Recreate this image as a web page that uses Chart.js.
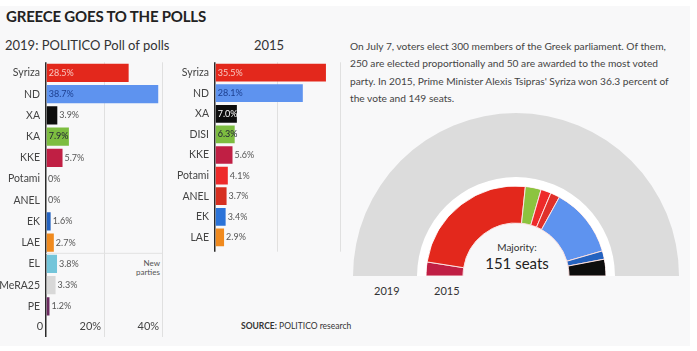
<!DOCTYPE html>
<html>
<head>
<meta charset="utf-8">
<script src="https://cdn.jsdelivr.net/npm/chart.js@4"></script>
<style>
  body { margin: 0; background: #fff; font-family: Lato, "Liberation Sans", sans-serif; color: #333; }
  #panel { position: absolute; left: 0; top: 6px; width: 690px; height: 340px; background: #f8f8f9; }
  .abs { position: absolute; white-space: nowrap; }
  canvas { position: absolute; }
</style>
</head>
<body>
<div id="panel"></div>
<div class="abs" style="left:6px;top:7px;font-size:15px;font-weight:bold;color:#222;letter-spacing:-0.2px">GREECE GOES TO THE POLLS</div>
<div class="abs" style="left:5px;top:37px;font-size:13px;color:#333">2019: POLITICO Poll of polls</div>
<div class="abs" style="left:254px;top:37px;font-size:13px;color:#333">2015</div>
<div class="abs" style="left:350px;top:38px;font-size:10.2px;line-height:17.4px;color:#444">
On July 7, voters elect 300 members of the Greek parliament. Of them,<br>
250 are elected proportionally and 50 are awarded to the most voted<br>
party. In 2015, Prime Minister Alexis Tsipras' Syriza won 36.3 percent of<br>
the vote and 149 seats.</div>
<div class="abs" style="left:110px;top:259px;width:50px;text-align:right;font-size:8px;line-height:9px;color:#555;white-space:normal">New<br>parties</div>
<div class="abs" style="left:241px;top:321px;font-size:8.5px;color:#333"><b>SOURCE:</b> POLITICO research</div>
<div class="abs" style="left:368px;top:246px;width:40px;text-align:center;font-size:7.5px;line-height:8.5px;color:#555;white-space:normal">July 7<br>general<br>election</div>
<div class="abs" style="left:374px;top:284px;font-size:11px;color:#333">2019</div>
<div class="abs" style="left:434px;top:284px;font-size:11px;color:#333">2015</div>
<div class="abs" style="left:467px;top:241px;width:100px;text-align:center;font-size:10px;color:#333">Majority:</div>
<div class="abs" style="left:467px;top:254px;width:100px;text-align:center;font-size:15px;color:#222">151 seats</div>

<canvas id="poll2019" width="166" height="290" style="left:0;top:50px;width:166px;height:290px"></canvas>
<canvas id="vote2015" width="175" height="210" style="left:170px;top:50px;width:175px;height:210px"></canvas>
<canvas id="seats" width="326" height="163" style="left:353px;top:113px;width:326px;height:163px"></canvas>

<script>
// 2019 poll of polls
const parties2019 = ['Syriza', 'ND', 'XA', 'KA', 'KKE', 'Potami', 'ANEL', 'EK', 'LAE', 'EL', 'MeRA25', 'PE'];
const poll2019 = [28.5, 38.7, 3.9, 7.9, 5.7, 0, 0, 1.6, 2.7, 3.8, 3.3, 1.2];
const colors2019 = ['#e3281c', '#5e93ef', '#0d0d0d', '#7dbd40', '#c01f44', '#ee2a2a', '#d62f20', '#2563c0', '#f08a1e', '#73c5da', '#d8d8d8', '#6b2a5f'];

// 2015 election result
const parties2015 = ['Syriza', 'ND', 'XA', 'DISI', 'KKE', 'Potami', 'ANEL', 'EK', 'LAE'];
const vote2015 = [35.5, 28.1, 7.0, 6.3, 5.6, 4.1, 3.7, 3.4, 2.9];
const colors2015 = ['#e3281c', '#5e93ef', '#0d0d0d', '#7dbd40', '#c01f44', '#ee2a2a', '#d62f20', '#2b73d8', '#f08a1e'];

// 2015 seats, left to right round the hemicycle
const seatParties = ['KKE', 'Syriza', 'DISI', 'Potami', 'ANEL', 'ND', 'EK', 'XA'];
const seats2015 = [15, 145, 17, 11, 10, 75, 9, 18];
const seatColors = ['#c01f44', '#e3281c', '#8cc43f', '#ee2a2a', '#e0302a', '#5e93ef', '#2563c0', '#0d0d0d'];
const totalSeats = [300];

const xTicks = [0, 20, 40];

// label inside the bar when it is wide enough, otherwise just after it
function insideColor(c) {
  if (c === '#e3281c') return '#f8c8c0';
  if (c === '#5e93ef') return '#1d3f8f';
  if (c === '#0d0d0d') return '#ffffff';
  return '#223';
}

const valueLabels = {
  id: 'valueLabels',
  afterDatasetsDraw(chart) {
    const ctx = chart.ctx;
    const meta = chart.getDatasetMeta(0);
    const ds = chart.data.datasets[0];
    ctx.save();
    ctx.font = '9px Lato, sans-serif';
    ctx.textBaseline = 'middle';
    ctx.textAlign = 'left';
    meta.data.forEach((bar, i) => {
      const v = ds.data[i];
      const txt = v.toFixed(1).replace(/\.0$/, v === 0 ? '' : '.0') + '%';
      if (v >= 6) {
        ctx.fillStyle = insideColor(ds.backgroundColor[i]);
        ctx.fillText(txt, bar.base + 2, bar.y);
      } else {
        ctx.fillStyle = '#555';
        ctx.fillText(txt, bar.x + 2, bar.y);
      }
    });
    ctx.restore();
  }
};

// thin rule above the new parties
const newPartiesRule = {
  id: 'newPartiesRule',
  beforeDatasetsDraw(chart, args, opts) {
    if (!opts.after) return;
    const y = chart.scales.y;
    const x = chart.scales.x;
    const i = parties2019.indexOf(opts.after);
    const py = (y.getPixelForValue(i) + y.getPixelForValue(i + 1)) / 2;
    const ctx = chart.ctx;
    ctx.save();
    ctx.strokeStyle = '#e2e2e2';
    ctx.lineWidth = 1;
    ctx.beginPath();
    ctx.moveTo(x.getPixelForValue(0), py);
    ctx.lineTo(x.getPixelForValue(40), py);
    ctx.stroke();
    ctx.restore();
  }
};

function barChart(id, labels, values, colors, opt) {
  return new Chart(document.getElementById(id), {
    type: 'bar',
    data: {
      labels: labels,
      datasets: [{
        data: values,
        backgroundColor: colors,
        barPercentage: 0.86,
        categoryPercentage: 1
      }]
    },
    options: {
      indexAxis: 'y',
      responsive: false,
      animation: false,
      layout: { padding: { top: 11, right: opt.padRight, left: 0, bottom: 0 } },
      plugins: {
        legend: { display: false },
        tooltip: { enabled: false },
        newPartiesRule: { after: opt.ruleAfter }
      },
      scales: {
        x: {
          min: 0, max: 40,
          afterBuildTicks: (s) => { s.ticks = xTicks.map(v => ({ value: v })); },
          afterFit: (s) => { s.height = opt.xHeight; },
          grid: {
            color: (c) => c.tick && c.tick.value === 0 ? '#2a2a2a' : '#e0e0e0',
            lineWidth: (c) => c.tick && c.tick.value === 0 ? 1.5 : 1,
            tickLength: opt.tickLength,
            drawOnChartArea: true
          },
          border: { display: false },
          ticks: {
            display: opt.showTicks,
            align: 'end',
            padding: -opt.tickLength + 3,
            color: '#444',
            font: { family: 'Lato', size: 11 },
            callback: (v) => v === 0 ? '0 ' : v + '% '
          }
        },
        y: {
          afterFit: (s) => { s.width = opt.yWidth; },
          grid: { display: false, drawTicks: false },
          border: { display: false },
          ticks: {
            color: '#444',
            padding: 6,
            font: { family: 'Lato', size: 10.5 }
          }
        }
      }
    },
    plugins: [valueLabels, newPartiesRule]
  });
}

barChart('poll2019', parties2019, poll2019, colors2019,
  { padRight: 4, yWidth: 46, xHeight: 23, tickLength: 20, showTicks: true, ruleAfter: 'LAE' });
barChart('vote2015', parties2015, vote2015, colors2015,
  { padRight: 5, yWidth: 45, xHeight: 7, tickLength: 4, showTicks: false, ruleAfter: null });

new Chart(document.getElementById('seats'), {
  type: 'doughnut',
  data: {
    labels: seatParties,
    datasets: [
      { data: totalSeats, backgroundColor: ['#dcdcdc'], borderWidth: 0, weight: 64 },
      { data: totalSeats, backgroundColor: ['#ffffff'], borderWidth: 0, weight: 9 },
      { data: seats2015, backgroundColor: seatColors, borderColor: '#fbe0e0', borderWidth: 1, weight: 37 }
    ]
  },
  options: {
    responsive: false,
    animation: false,
    rotation: -90,
    circumference: 180,
    radius: 163,
    cutout: '32.5%',
    layout: { padding: 0 },
    plugins: { legend: { display: false }, tooltip: { enabled: false } }
  }
});
</script>
</body>
</html>
